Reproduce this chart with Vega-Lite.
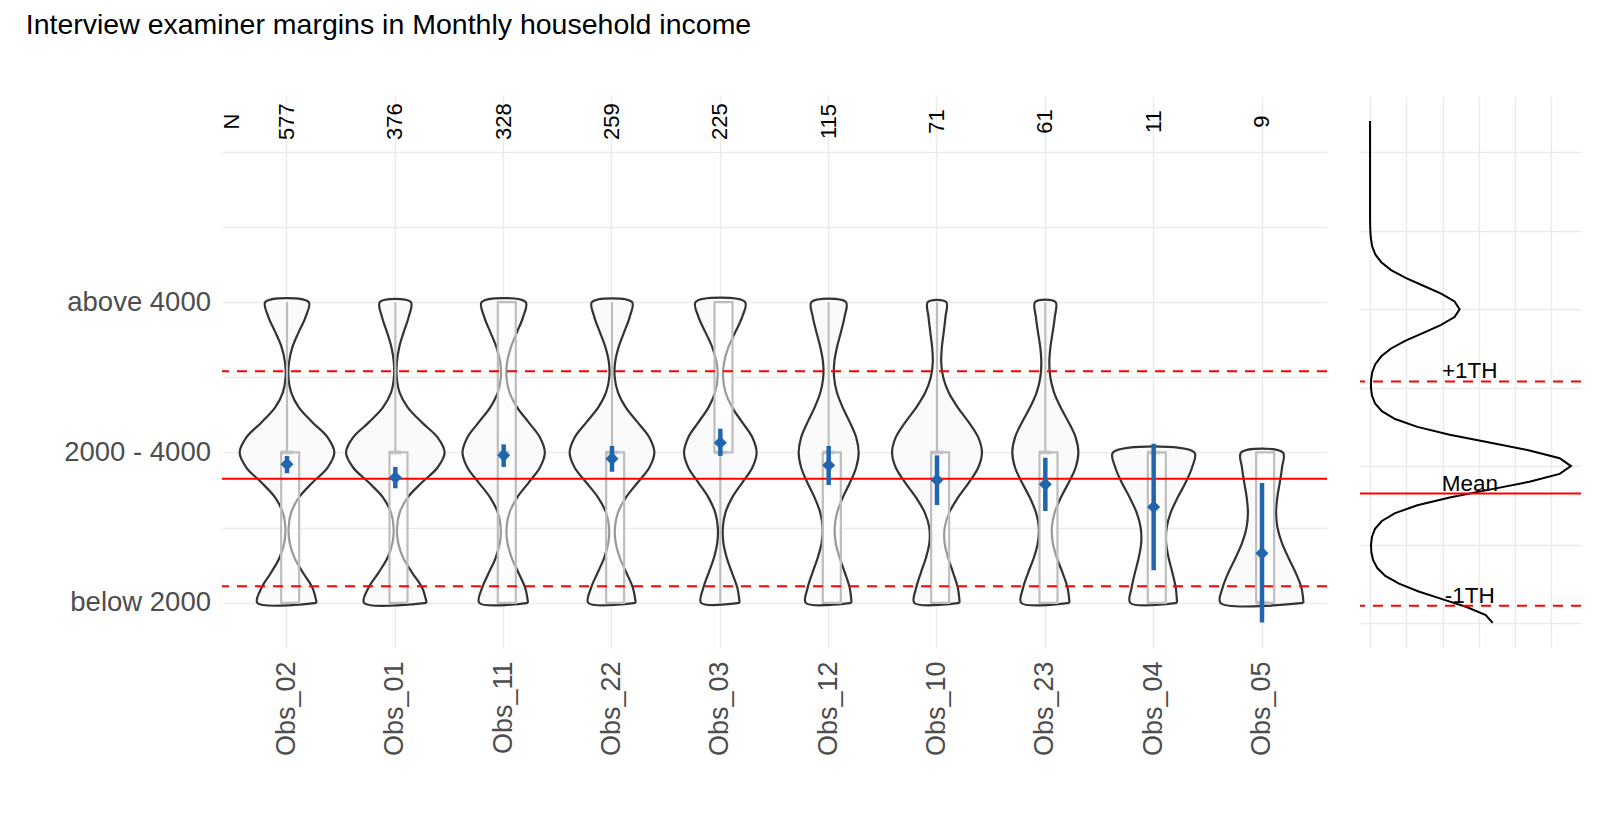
{
  "$schema": "https://vega.github.io/schema/vega-lite/v6.json",
  "background": "white",
  "padding": {"left": 25, "top": 10, "right": 5, "bottom": 5},
  "title": {"text": "Interview examiner margins in Monthly household income", "anchor": "start", "frame": "bounds", "dx": -38, "fontSize": 28.5, "font": "Liberation Sans", "fontWeight": "normal", "color": "black", "offset": 57},
  "config": {
    "view": {"stroke": null},
    "font": "Liberation Sans",
    "axis": {"grid": true, "gridColor": "#ebebeb", "gridWidth": 1.5, "domain": false, "ticks": false, "labelFont": "Liberation Sans", "labelFontSize": 27.5, "labelColor": "#4d4d4d"}
  },
  "datasets": {
    "violin": [
      {"o": "Obs_02", "v": [1,1.1,1.2,1.3,1.4,1.5,1.6,1.7,1.8,1.9,2,2.1,2.2,2.3,2.4,2.5,2.6,2.7,2.8,2.9,3,3,2.9,2.8,2.7,2.6,2.5,2.4,2.3,2.2,2.1,2,1.9,1.8,1.7,1.6,1.5,1.4,1.3,1.2,1.1,1,1], "w": [0.274,0.235,0.148,0.069,0.025,0.015,0.038,0.109,0.236,0.375,0.437,0.375,0.236,0.109,0.038,0.013,0.019,0.050,0.108,0.171,0.200,-0.200,-0.171,-0.108,-0.050,-0.019,-0.013,-0.038,-0.109,-0.236,-0.375,-0.437,-0.375,-0.236,-0.109,-0.038,-0.015,-0.025,-0.069,-0.148,-0.235,-0.274,0.274]},
      {"o": "Obs_01", "v": [1,1.1,1.2,1.3,1.4,1.5,1.6,1.7,1.8,1.9,2,2.1,2.2,2.3,2.4,2.5,2.6,2.7,2.8,2.9,3,3,2.9,2.8,2.7,2.6,2.5,2.4,2.3,2.2,2.1,2,1.9,1.8,1.7,1.6,1.5,1.4,1.3,1.2,1.1,1,1], "w": [0.289,0.248,0.156,0.072,0.026,0.016,0.040,0.113,0.245,0.390,0.455,0.390,0.245,0.114,0.039,0.013,0.014,0.036,0.077,0.123,0.143,-0.143,-0.123,-0.077,-0.036,-0.014,-0.013,-0.039,-0.114,-0.245,-0.390,-0.455,-0.390,-0.245,-0.113,-0.040,-0.016,-0.026,-0.072,-0.156,-0.248,-0.289,0.289]},
      {"o": "Obs_11", "v": [1,1.1,1.2,1.3,1.4,1.5,1.6,1.7,1.8,1.9,2,2.1,2.2,2.3,2.4,2.5,2.6,2.7,2.8,2.9,3,3,2.9,2.8,2.7,2.6,2.5,2.4,2.3,2.2,2.1,2,1.9,1.8,1.7,1.6,1.5,1.4,1.3,1.2,1.1,1,1], "w": [0.225,0.199,0.137,0.074,0.035,0.027,0.054,0.124,0.231,0.335,0.380,0.335,0.231,0.124,0.054,0.026,0.032,0.067,0.123,0.179,0.203,-0.203,-0.179,-0.123,-0.067,-0.032,-0.026,-0.054,-0.124,-0.231,-0.335,-0.380,-0.335,-0.231,-0.124,-0.054,-0.027,-0.035,-0.074,-0.137,-0.199,-0.225,0.225]},
      {"o": "Obs_22", "v": [1,1.1,1.2,1.3,1.4,1.5,1.6,1.7,1.8,1.9,2,2.1,2.2,2.3,2.4,2.5,2.6,2.7,2.8,2.9,3,3,2.9,2.8,2.7,2.6,2.5,2.4,2.3,2.2,2.1,2,1.9,1.8,1.7,1.6,1.5,1.4,1.3,1.2,1.1,1,1], "w": [0.219,0.193,0.133,0.072,0.034,0.027,0.055,0.128,0.237,0.345,0.391,0.345,0.237,0.127,0.055,0.025,0.029,0.061,0.112,0.163,0.185,-0.185,-0.163,-0.112,-0.061,-0.029,-0.025,-0.055,-0.127,-0.237,-0.345,-0.391,-0.345,-0.237,-0.128,-0.055,-0.027,-0.034,-0.072,-0.133,-0.193,-0.219,0.219]},
      {"o": "Obs_03", "v": [1,1.1,1.2,1.3,1.4,1.5,1.6,1.7,1.8,1.9,2,2.1,2.2,2.3,2.4,2.5,2.6,2.7,2.8,2.9,3,3,2.9,2.8,2.7,2.6,2.5,2.4,2.3,2.2,2.1,2,1.9,1.8,1.7,1.6,1.5,1.4,1.3,1.2,1.1,1,1], "w": [0.178,0.157,0.108,0.059,0.028,0.023,0.047,0.109,0.203,0.296,0.335,0.296,0.203,0.109,0.048,0.025,0.035,0.075,0.138,0.201,0.228,-0.228,-0.201,-0.138,-0.075,-0.035,-0.025,-0.048,-0.109,-0.203,-0.296,-0.335,-0.296,-0.203,-0.109,-0.047,-0.023,-0.028,-0.059,-0.108,-0.157,-0.178,0.178]},
      {"o": "Obs_12", "v": [1,1.1,1.2,1.3,1.4,1.5,1.6,1.7,1.8,1.9,2,2.1,2.2,2.3,2.4,2.5,2.6,2.7,2.8,2.9,3,3,2.9,2.8,2.7,2.6,2.5,2.4,2.3,2.2,2.1,2,1.9,1.8,1.7,1.6,1.5,1.4,1.3,1.2,1.1,1,1], "w": [0.211,0.194,0.150,0.101,0.065,0.056,0.078,0.130,0.197,0.254,0.277,0.254,0.196,0.129,0.076,0.050,0.052,0.077,0.113,0.146,0.159,-0.159,-0.146,-0.113,-0.077,-0.052,-0.050,-0.076,-0.129,-0.196,-0.254,-0.277,-0.254,-0.197,-0.130,-0.078,-0.056,-0.065,-0.101,-0.150,-0.194,-0.211,0.211]},
      {"o": "Obs_10", "v": [1,1.1,1.2,1.3,1.4,1.5,1.6,1.7,1.8,1.9,2,2.1,2.2,2.3,2.4,2.5,2.6,2.7,2.8,2.9,3,3,2.9,2.8,2.7,2.6,2.5,2.4,2.3,2.2,2.1,2,1.9,1.8,1.7,1.6,1.5,1.4,1.3,1.2,1.1,1,1], "w": [0.209,0.192,0.149,0.102,0.070,0.071,0.113,0.193,0.294,0.381,0.415,0.381,0.294,0.191,0.107,0.057,0.039,0.045,0.062,0.078,0.085,-0.085,-0.078,-0.062,-0.045,-0.039,-0.057,-0.107,-0.191,-0.294,-0.381,-0.415,-0.381,-0.294,-0.193,-0.113,-0.071,-0.070,-0.102,-0.149,-0.192,-0.209,0.209]},
      {"o": "Obs_23", "v": [1,1.1,1.2,1.3,1.4,1.5,1.6,1.7,1.8,1.9,2,2.1,2.2,2.3,2.4,2.5,2.6,2.7,2.8,2.9,3,3,2.9,2.8,2.7,2.6,2.5,2.4,2.3,2.2,2.1,2,1.9,1.8,1.7,1.6,1.5,1.4,1.3,1.2,1.1,1,1], "w": [0.223,0.205,0.159,0.106,0.069,0.060,0.086,0.143,0.216,0.280,0.305,0.280,0.216,0.141,0.080,0.046,0.037,0.047,0.068,0.087,0.094,-0.094,-0.087,-0.068,-0.047,-0.037,-0.046,-0.080,-0.141,-0.216,-0.280,-0.305,-0.280,-0.216,-0.143,-0.086,-0.060,-0.069,-0.106,-0.159,-0.205,-0.223,0.223]},
      {"o": "Obs_04", "v": [1,1.1,1.2,1.3,1.4,1.5,1.6,1.7,1.8,1.9,2,2,1.9,1.8,1.7,1.6,1.5,1.4,1.3,1.2,1.1,1,1], "w": [0.216,0.204,0.173,0.138,0.115,0.120,0.157,0.221,0.295,0.354,0.376,-0.376,-0.354,-0.295,-0.221,-0.157,-0.120,-0.115,-0.138,-0.173,-0.204,-0.216,0.216]},
      {"o": "Obs_05", "v": [1,1.1,1.2,1.3,1.4,1.5,1.6,1.7,1.8,1.9,2,2,1.9,1.8,1.7,1.6,1.5,1.4,1.3,1.2,1.1,1,1], "w": [0.383,0.364,0.311,0.244,0.183,0.143,0.130,0.141,0.164,0.185,0.193,-0.193,-0.185,-0.164,-0.141,-0.130,-0.143,-0.183,-0.244,-0.311,-0.364,-0.383,0.383]}
    ],
    "stats": [
      {"o": "Obs_02", "n": 577, "mean": 1.922, "lo": 1.862, "hi": 1.977, "q1": 1, "med": 2, "q3": 2, "wlo": 1, "whi": 3},
      {"o": "Obs_01", "n": 376, "mean": 1.833, "lo": 1.762, "hi": 1.904, "q1": 1, "med": 2, "q3": 2, "wlo": 1, "whi": 3},
      {"o": "Obs_11", "n": 328, "mean": 1.981, "lo": 1.904, "hi": 2.054, "q1": 1, "med": 2, "q3": 3, "wlo": 1, "whi": 3},
      {"o": "Obs_22", "n": 259, "mean": 1.959, "lo": 1.872, "hi": 2.043, "q1": 1, "med": 2, "q3": 2, "wlo": 1, "whi": 3},
      {"o": "Obs_03", "n": 225, "mean": 2.065, "lo": 1.977, "hi": 2.158, "q1": 2, "med": 2, "q3": 3, "wlo": 1, "whi": 3},
      {"o": "Obs_12", "n": 115, "mean": 1.915, "lo": 1.784, "hi": 2.043, "q1": 1, "med": 2, "q3": 2, "wlo": 1, "whi": 3},
      {"o": "Obs_10", "n": 71, "mean": 1.817, "lo": 1.651, "hi": 1.981, "q1": 1, "med": 2, "q3": 2, "wlo": 1, "whi": 3},
      {"o": "Obs_23", "n": 61, "mean": 1.789, "lo": 1.611, "hi": 1.965, "q1": 1, "med": 2, "q3": 2, "wlo": 1, "whi": 3},
      {"o": "Obs_04", "n": 11, "mean": 1.638, "lo": 1.217, "hi": 2.058, "q1": 1, "med": 2, "q3": 2, "wlo": 1, "whi": 2},
      {"o": "Obs_05", "n": 9, "mean": 1.330, "lo": 0.869, "hi": 1.797, "q1": 1, "med": 1, "q3": 2, "wlo": 1, "whi": 2}
    ],
    "ref": [
      {"label": "+1TH", "v": 2.54},
      {"label": "Mean", "v": 1.825},
      {"label": "-1TH", "v": 1.11}
    ],
    "density": [
      {"v": [1,1.05,1.1,1.15,1.2,1.25,1.3,1.35,1.4,1.45,1.5,1.55,1.6,1.65,1.7,1.75,1.8,1.85,1.9,1.95,2,2.05,2.1,2.15,2.2,2.25,2.3,2.35,2.4,2.45,2.5,2.55,2.6,2.65,2.7,2.75,2.8,2.85,2.9,2.95,3,3.05,3.1,3.15,3.2,3.25,3.3,3.35,3.4,3.45,3.5,3.55,3.6,3.7,3.8,3.9,4,4.1,4.2],
       "d": [0.338,0.319,0.268,0.201,0.134,0.080,0.042,0.020,0.0085,0.0036,0.0027,0.0054,0.0137,0.0326,0.0691,0.1305,0.2196,0.3292,0.4395,0.5229,0.554,0.5229,0.4395,0.3292,0.2196,0.1305,0.0691,0.0326,0.0138,0.0053,0.0025,0.0028,0.0062,0.0145,0.031,0.058,0.098,0.147,0.196,0.233,0.247,0.233,0.196,0.147,0.098,0.058,0.031,0.0145,0.0061,0.0023,0.0008,0.0002,0,0,0,0,0,0,0]}
    ]
  },
  "spacing": 31,
  "hconcat": [
    {
      "width": 1105,
      "height": 552,
      "encoding": {
        "x": {"field": "o", "type": "nominal", "title": null, "scale": {"type": "band", "domain": ["Obs_02","Obs_01","Obs_11","Obs_22","Obs_03","Obs_12","Obs_10","Obs_23","Obs_04","Obs_05"], "paddingInner": 0, "paddingOuter": 0.1}, "axis": {"orient": "bottom", "labelAngle": 270, "labelPadding": 13, "labelFontSize": 27, "bandPosition": 0.5, "grid": true}}
      },
      "layer": [
        {
          "data": {"name": "violin"},
          "transform": [{"flatten": ["v", "w"]}],
          "mark": {"type": "line", "interpolate": "catmull-rom", "stroke": "#333333", "strokeWidth": 2.2, "fill": "#fafafa"},
          "encoding": {
            "xOffset": {"field": "w", "type": "quantitative", "scale": {"domain": [-0.5, 0.5], "nice": false, "zero": false}},
            "y": {"field": "v", "type": "quantitative", "title": null, "scale": {"domain": [0.7, 4.37], "nice": false, "zero": false}, "axis": {"values": [1,1.5,2,2.5,3,3.5,4], "labelPadding": 11.5, "labelExpr": "datum.value == 1 ? 'below 2000' : datum.value == 2 ? '2000 - 4000' : datum.value == 3 ? 'above 4000' : ''"}},
            "detail": {"field": "o"},
            "order": {"value": null}
          }
        },
        {
          "data": {"name": "stats"},
          "mark": {"type": "bar", "width": {"band": 0.108}, "fill": "white", "fillOpacity": 0.5, "stroke": "#bebebe", "strokeWidth": 2.2},
          "encoding": {
            "y": {"field": "q1", "type": "quantitative", "title": null},
            "y2": {"field": "q3"}
          }
        },
        {
          "data": {"name": "stats"},
          "mark": {"type": "rule", "color": "#bebebe", "strokeWidth": 2.2},
          "encoding": {
            "y": {"field": "q3", "type": "quantitative", "title": null},
            "y2": {"field": "whi"}
          }
        },
        {
          "data": {"name": "stats"},
          "mark": {"type": "rule", "color": "#bebebe", "strokeWidth": 2.2},
          "encoding": {
            "y": {"field": "wlo", "type": "quantitative", "title": null},
            "y2": {"field": "q1"}
          }
        },
        {
          "data": {"name": "stats"},
          "mark": {"type": "tick", "color": "#bebebe", "thickness": 4, "size": 12, "orient": "horizontal"},
          "encoding": {
            "y": {"field": "med", "type": "quantitative", "title": null}
          }
        },
        {
          "data": {"name": "ref"},
          "transform": [{"filter": "datum.label == 'Mean'"}],
          "mark": {"type": "rule", "color": "#ff0000", "strokeWidth": 2},
          "encoding": {"x": null, "y": {"field": "v", "type": "quantitative", "title": null}}
        },
        {
          "data": {"name": "ref"},
          "transform": [{"filter": "datum.label != 'Mean'"}],
          "mark": {"type": "rule", "color": "#ff0000", "strokeWidth": 2, "strokeDash": [10, 8]},
          "encoding": {"x": null, "y": {"field": "v", "type": "quantitative", "title": null}}
        },
        {
          "data": {"name": "stats"},
          "mark": {"type": "rule", "color": "#2166ac", "strokeWidth": 4.5},
          "encoding": {
            "y": {"field": "lo", "type": "quantitative", "title": null},
            "y2": {"field": "hi"}
          }
        },
        {
          "data": {"name": "stats"},
          "mark": {"type": "point", "shape": "diamond", "filled": true, "size": 170, "color": "#2166ac", "opacity": 1},
          "encoding": {
            "y": {"field": "mean", "type": "quantitative", "title": null}
          }
        },
        {
          "data": {"name": "stats"},
          "mark": {"type": "text", "angle": 270, "fontSize": 22, "color": "black", "align": "center", "baseline": "middle"},
          "encoding": {
            "y": {"datum": 4.2, "type": "quantitative"},
            "text": {"field": "n", "type": "quantitative"}
          }
        },
        {
          "data": {"values": [{"t": "N"}]},
          "mark": {"type": "text", "angle": 270, "fontSize": 22, "color": "black", "align": "center", "baseline": "middle", "dy": -55},
          "encoding": {
            "x": {"datum": "Obs_02", "type": "nominal"},
            "y": {"datum": 4.2, "type": "quantitative"},
            "text": {"field": "t"}
          }
        }
      ]
    },
    {
      "width": 221,
      "height": 552,
      "layer": [
        {
          "data": {"name": "density"},
          "transform": [{"flatten": ["v", "d"]}],
          "mark": {"type": "line", "color": "black", "strokeWidth": 2},
          "encoding": {
            "x": {"field": "d", "type": "quantitative", "title": null, "scale": {"domain": [-0.0277, 0.5817], "nice": false, "zero": false}, "axis": {"values": [0,0.1,0.2,0.3,0.4,0.5], "labels": false, "orient": "bottom"}},
            "y": {"field": "v", "type": "quantitative", "title": null, "scale": {"domain": [0.84, 4.36], "nice": false, "zero": false}, "axis": {"values": [1,1.5,2,2.5,3,3.5,4], "labels": false}},
            "order": {"field": "v", "type": "quantitative"}
          }
        },
        {
          "data": {"name": "ref"},
          "transform": [{"filter": "datum.label == 'Mean'"}],
          "mark": {"type": "rule", "color": "#ff0000", "strokeWidth": 2},
          "encoding": {"y": {"field": "v", "type": "quantitative", "title": null}}
        },
        {
          "data": {"name": "ref"},
          "transform": [{"filter": "datum.label != 'Mean'"}],
          "mark": {"type": "rule", "color": "#ff0000", "strokeWidth": 2, "strokeDash": [10, 8]},
          "encoding": {"y": {"field": "v", "type": "quantitative", "title": null}}
        },
        {
          "data": {"name": "ref"},
          "mark": {"type": "text", "fontSize": 22.5, "color": "black", "align": "center", "baseline": "alphabetic", "dy": -3},
          "encoding": {
            "x": {"datum": 0.275, "type": "quantitative"},
            "y": {"field": "v", "type": "quantitative", "title": null},
            "text": {"field": "label"}
          }
        }
      ]
    }
  ]
}
